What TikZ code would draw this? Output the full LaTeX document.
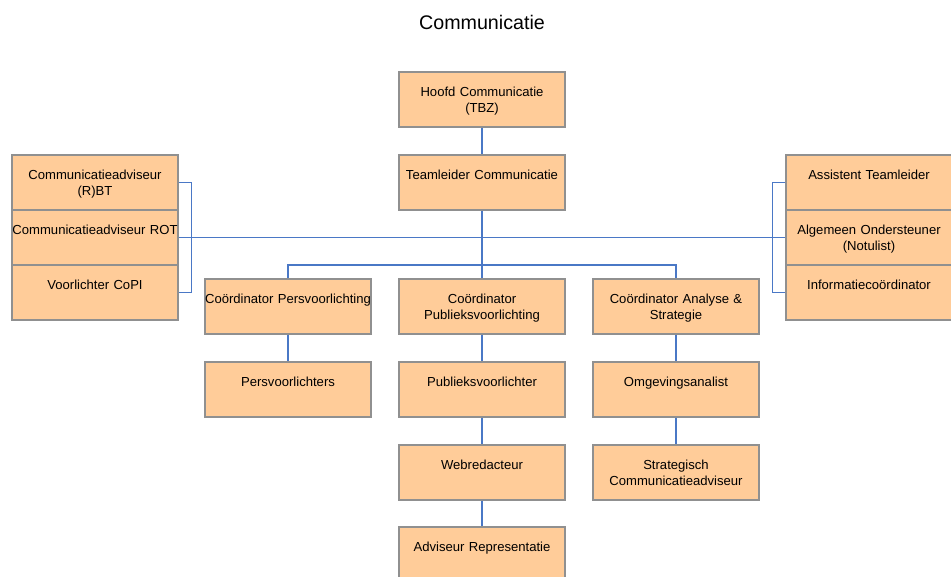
\documentclass[tikz,border=0pt]{standalone}
\usepackage{fontspec}
\setmainfont{Liberation Sans}
\usepackage{tikz}

\definecolor{boxfill}{HTML}{FFCC99}
\definecolor{boxline}{HTML}{909090}
\definecolor{linkblue}{HTML}{4A78C6}

\begin{document}
\begin{tikzpicture}[x=0.02cm,y=-0.02cm]
	\tikzstyle{unit}=[draw=boxline,fill=boxfill,line width=0.65pt,shape=rectangle,
		minimum width=3.32cm,minimum height=1.1cm,text width=3.32cm,align=center,
		inner sep=0pt,text height=0.49cm,text depth=0.61cm,
		font=\fontsize{7.45}{9.1}\selectfont]
	\tikzstyle{link}=[draw=linkblue,line width=0.6pt]

	\useasboundingbox (0,0) rectangle (951,577);

	\node[font=\fontsize{11.2}{13}\selectfont](title) at (482,22.5){Communicatie};

	\node[unit](hoofd) at (482,99.5){Hoofd Communicatie\\(TBZ)};
	\node[unit](team) at (482,182.5){Teamleider Communicatie};

	\node[unit](cab) at (95,182.5){Communicatieadviseur\\(R)BT};
	\node[unit](cad) at (95,237.5){Communicatieadviseur ROT};
	\node[unit](copi) at (95,292.5){Voorlichter CoPI};

	\node[unit](asst) at (869,182.5){Assistent Teamleider};
	\node[unit](alg) at (869,237.5){Algemeen Ondersteuner\\(Notulist)};
	\node[unit](info) at (869,292.5){Informatieco\"ordinator};

	\node[unit](cpers) at (288,306.5){Co\"ordinator Persvoorlichting};
	\node[unit](cpub) at (482,306.5){Co\"ordinator\\Publieksvoorlichting};
	\node[unit](cana) at (676,306.5){Co\"ordinator Analyse \&\\Strategie};

	\node[unit](pers) at (288,389.5){Persvoorlichters};
	\node[unit](pub) at (482,389.5){Publieksvoorlichter};
	\node[unit](omg) at (676,389.5){Omgevingsanalist};

	\node[unit](web) at (482,472.5){Webredacteur};
	\node[unit](strat) at (676,472.5){Strategisch\\Communicatieadviseur};

	\node[unit](adv) at (482,554.5){Adviseur Representatie};

	\coordinate (bar) at (482,265);

	\draw[link] (hoofd) -- (team);
	\draw[link] (team) -- (cpub);
	\draw[link] (cpers) |- (bar) -| (cana);
	\draw[link] (cad.east) -- (alg.west);

	\draw[link] (cab.east) -- ++(13,0) |- (copi.east);
	\draw[link] (asst.west) -- ++(-13,0) |- (info.west);

	\draw[link] (cpers) -- (pers);
	\draw[link] (cpub) -- (pub);
	\draw[link] (pub) -- (web);
	\draw[link] (web) -- (adv);
	\draw[link] (cana) -- (omg);
	\draw[link] (omg) -- (strat);

\end{tikzpicture}
\end{document}
